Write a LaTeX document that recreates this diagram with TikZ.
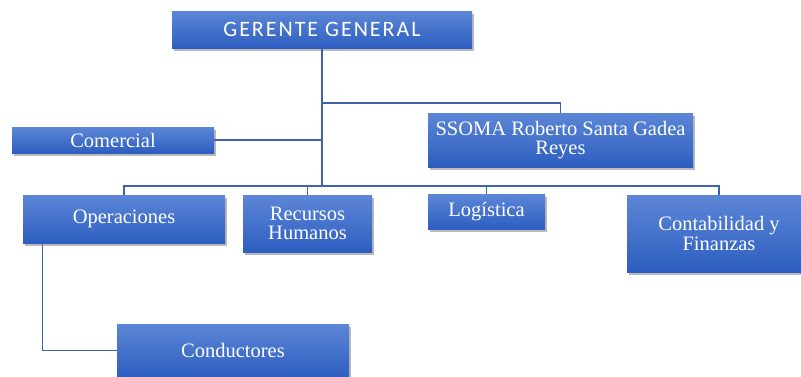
\documentclass[tikz,border=0pt]{standalone}
\usepackage{fontspec}
\setmainfont{Liberation Serif}
\newfontfamily\ggfont[LetterSpace=9]{Carlito}
\usetikzlibrary{shadows}
\definecolor{boxtop}{HTML}{5C86D6}
\definecolor{boxbot}{HTML}{2D5EC0}
\definecolor{linec}{HTML}{3E62AE}
\tikzset{
  orgbox/.style={rectangle, inner sep=0pt, top color=boxtop, bottom color=boxbot,
    draw=none, text=white, align=center,
    font=\fontsize{20.5}{19.5}\selectfont,
    drop shadow={shadow xshift=1.5pt, shadow yshift=-2.5pt, opacity=0.45, fill=black!60}},
  conn/.style={draw=linec, line width=1.2pt},
  trunk/.style={draw=linec, line width=1.8pt}
}
\begin{document}
\begin{tikzpicture}[x=1pt,y=-1pt]
\useasboundingbox (0,0) rectangle (801,376);
\fill[white] (0,0) rectangle (801,376);
\clip (0,0) rectangle (801,376);
\node[orgbox, minimum width=300pt, minimum height=37pt, font=\ggfont\fontsize{22}{26}\selectfont] (gg) at (322,29.5) {GERENTE GENERAL};
\node[orgbox, minimum width=202pt, minimum height=26pt] (com) at (113,140) {Comercial};
\node[orgbox, minimum width=265pt, minimum height=54pt] (ssoma) at (560.5,140) {SSOMA Roberto Santa Gadea\\Reyes};
\node[orgbox, minimum width=202pt, minimum height=48pt] (ops) at (124,219) {Operaciones};
\node[orgbox, minimum width=129pt, minimum height=57pt] (rh) at (307.5,223.5) {Recursos\\Humanos};
\node[orgbox, minimum width=117pt, minimum height=35pt] (log) at (486.5,211.5) {Logística};
\node[orgbox, minimum width=184pt, minimum height=77pt] (cont) at (719,233.5) {Contabilidad y\\Finanzas};
\node[orgbox, minimum width=232pt, minimum height=53pt] (cond) at (233,350.5) {Conductores};
\coordinate (bus) at (322,186);
\coordinate (j1) at (322,103);
\draw[trunk] (gg.south) -- (bus);
\draw[conn] (j1) -| (ssoma.north);
\draw[conn] (com.east) -- (com.east -| gg.south);
\draw[conn] (ops.north) |- (bus) -| (cont.north);
\draw[conn] (rh.north) -- (rh.north |- bus);
\draw[conn] (log.north) -- (log.north |- bus);
\draw[conn] ([xshift=20pt]ops.south west) |- (cond.west);
\end{tikzpicture}
\end{document}
